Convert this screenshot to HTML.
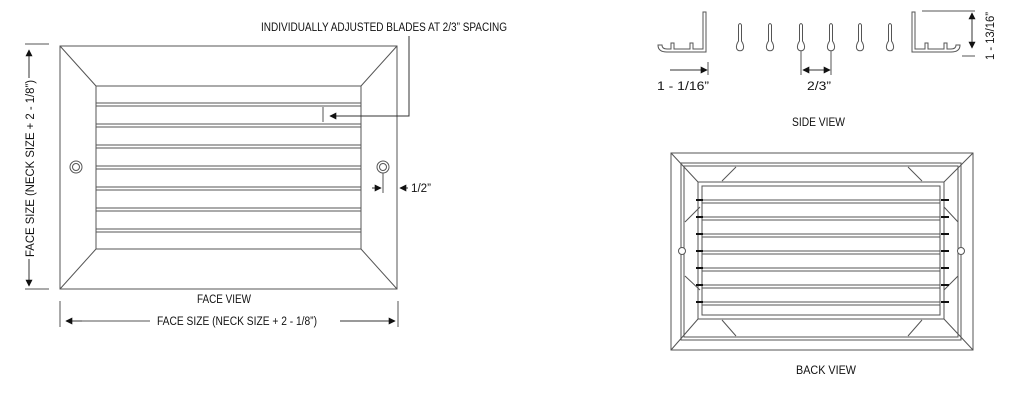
<!DOCTYPE html><html><head><style>body{margin:0;background:#fff}svg{display:block}text{font-family:"Liberation Sans",sans-serif;fill:#111}</style></head><body>
<svg width="1024" height="400" viewBox="0 0 1024 400" xmlns="http://www.w3.org/2000/svg">
<defs>
<marker id="a" viewBox="0 0 10 10" refX="9" refY="5" markerWidth="7" markerHeight="7" orient="auto"><path d="M0,0L10,5L0,10Z" fill="#111"/></marker>
</defs>
<g stroke="#555" stroke-width="1" fill="none">
<!-- FACE VIEW -->
<rect x="60" y="46" width="337" height="243"/>
<rect x="96" y="86" width="265" height="163"/>
<path d="M60,46L96,86M397,46L361,86M60,289L96,249M397,289L361,249"/>
<g id="bl">
<path d="M96,103H361M96,106H361"/>
</g>
<use href="#bl" y="21"/><use href="#bl" y="42"/><use href="#bl" y="63"/><use href="#bl" y="84"/><use href="#bl" y="105"/><use href="#bl" y="126"/>
<circle cx="76" cy="167" r="6"/><circle cx="76" cy="167" r="3.5"/>
<circle cx="383" cy="167" r="6"/><circle cx="383" cy="167" r="3.5"/>
<path d="M323,107V122"/>
<path d="M409,36V116H330" stroke="#333" marker-end="url(#a)"/>
<path d="M383,173V193"/>
<path d="M372,188H381" stroke="#333" marker-end="url(#a)"/>
<path d="M408,188H400" stroke="#333" marker-end="url(#a)"/>
<path d="M25,44H49M25,289H49"/>
<path d="M29,78V50" stroke="#333" marker-end="url(#a)"/>
<path d="M29,259V286" stroke="#333" marker-end="url(#a)"/>
<path d="M60,301V327M398,301V327"/>
<path d="M82,321H66" stroke="#333" marker-end="url(#a)"/>
<path d="M340,321H395" stroke="#333" marker-end="url(#a)"/>
<path d="M82,321H150"/>
<!-- SIDE VIEW -->
<path d="M706,12V52H667Q658,52 658,45H662Q662,49 667,49H671V43H674V49H690V43H693V49H703V12Z"/>
<path d="M912,12V52H951Q960,52 960,45H956Q956,49 951,49H947V43H944V49H928V43H925V49H915V12Z"/>
<path d="M922,11H975M962,56H975"/>
<path d="M972,30V13" stroke="#333" marker-end="url(#a)"/>
<path d="M972,30V48" stroke="#333" marker-end="url(#a)"/>
<path d="M708,62V75M801,50V75M831,50V75"/>
<path d="M688,70H670M816,70H803" stroke="#333" marker-end="url(#a)"/>
<path d="M688,70H707" stroke="#333" marker-end="url(#a)"/>
<path d="M816,70H830" stroke="#333" marker-end="url(#a)"/>
</g>
<g stroke="#555" fill="#fff">
<path id="td" d="M738.5,25Q740,22 741.5,25L741.5,41Q744,45 743.5,48A3.6,3.6 0 0 1 736.5,48Q736,45 738.5,41Z"/>
<use href="#td" x="30"/><use href="#td" x="61"/><use href="#td" x="91"/><use href="#td" x="120"/><use href="#td" x="150"/>
</g>
<g stroke="#555" stroke-width="1" fill="none">
<!-- BACK VIEW -->
<rect x="671" y="153" width="302" height="197"/>
<rect x="681" y="163" width="280" height="177"/>
<rect x="684" y="166" width="274" height="171"/>
<rect x="698" y="182" width="246" height="137"/>
<rect x="702" y="186" width="238" height="129"/>
<path d="M671,153L698,182M973,153L944,182M671,350L698,319M973,350L944,319"/>
<path d="M736,167L722,181M908,167L922,181M722,320L736,336M922,320L908,336M700,207L685,222M700,290L685,276M944,207L958,222M944,290L958,276"/>
<g id="bb"><path d="M702,200H940M702,203H940"/><path d="M696,200H703M941,200H949" stroke="#111" stroke-width="2"/></g>
<use href="#bb" y="17"/><use href="#bb" y="34"/><use href="#bb" y="51"/><use href="#bb" y="68"/><use href="#bb" y="85"/><use href="#bb" y="102"/>
</g>
<circle cx="682" cy="251" r="3.5" stroke="#555" fill="#fff"/>
<circle cx="961" cy="251" r="3.5" stroke="#555" fill="#fff"/>
<g font-size="11.5">
<text x="261" y="31" textLength="246" lengthAdjust="spacingAndGlyphs">INDIVIDUALLY ADJUSTED BLADES AT 2/3” SPACING</text>
<text x="411" y="192" textLength="20" lengthAdjust="spacingAndGlyphs">1/2”</text>
<text x="197" y="303" textLength="54" lengthAdjust="spacingAndGlyphs">FACE VIEW</text>
<text x="157" y="325" textLength="160" lengthAdjust="spacingAndGlyphs">FACE SIZE (NECK SIZE +   2 - 1/8”)</text>
<text transform="translate(34,257) rotate(-90)" textLength="177" lengthAdjust="spacingAndGlyphs">FACE SIZE (NECK SIZE +   2 - 1/8”)</text>
<text x="657" y="90" textLength="52" lengthAdjust="spacingAndGlyphs">1 - 1/16”</text>
<text x="807" y="90" textLength="24" lengthAdjust="spacingAndGlyphs">2/3”</text>
<text x="792" y="126" textLength="53" lengthAdjust="spacingAndGlyphs">SIDE VIEW</text>
<text transform="translate(994,60) rotate(-90)" textLength="48" lengthAdjust="spacingAndGlyphs">1 - 13/16”</text>
<text x="796" y="374" textLength="60" lengthAdjust="spacingAndGlyphs">BACK VIEW</text>
</g>
</svg>
</body></html>
